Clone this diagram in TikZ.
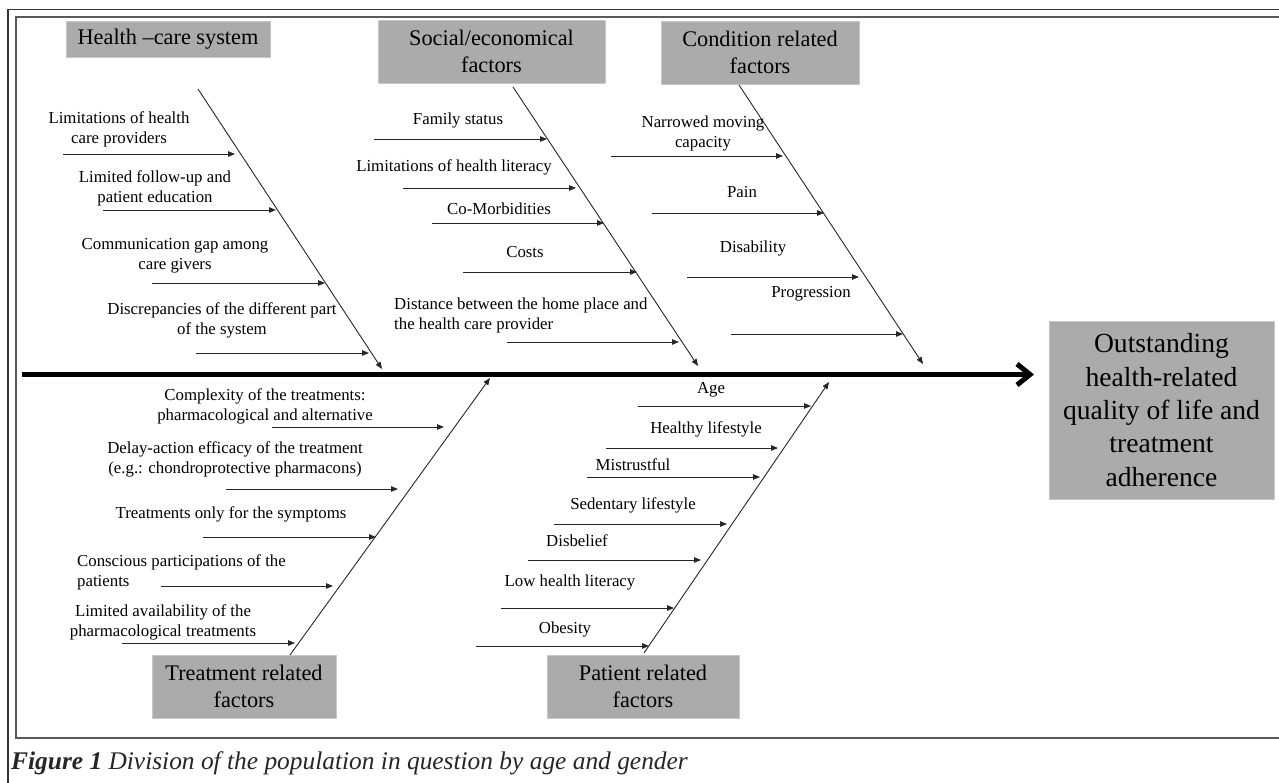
\documentclass[tikz,border=0pt]{standalone}
\usepackage{fontspec}
\setmainfont{Liberation Serif}
\usetikzlibrary{positioning, arrows.meta}

\begin{document}
\begin{tikzpicture}[x=1pt,y=-1pt]
		\tikzstyle{box} = [fill=black!33, draw=black!22, line width=0.8pt, text=black, align=center, inner sep=0, font=\fontsize{22.3}{27}\selectfont]
		\tikzstyle{cause} = [align=center, inner sep=0, font=\fontsize{16.8}{20}\selectfont]
		\tikzstyle{tip} = [-{Triangle[length=7pt,width=5.5pt]}, line width=0.9pt, black!85]
		\tikzstyle{spine} = [-{Straight Barb[length=13pt,width=21pt]}, line width=5pt]
		\tikzstyle{invisible} = [outer sep=0,inner sep=0,minimum size=0]
		\useasboundingbox (0,0) rectangle (1279,783);
		% frame
		\draw [line width=1.6pt, black!80] (8,783) -- (8,9.5) -- (1279,9.5);
		\draw [line width=1.6pt, black!65] (1279,738) -- (16,738) -- (16,17) -- (1279,17);
		% categories
		\node [box, minimum width=204, minimum height=36] (V_health) at (168,39) {Health –care system};
		\node [box, minimum width=227, minimum height=63] (V_social) at (491.5,51.5) {Social/economical\\factors};
		\node [box, minimum width=198, minimum height=63] (V_cond) at (760,52.5) {Condition related\\factors};
		\node [box, minimum width=184, minimum height=63] (V_treat) at (244,686.5) {Treatment related\\factors};
		\node [box, minimum width=192, minimum height=63] (V_patient) at (643,686.5) {Patient related\\factors};
		\node [box, font=\fontsize{27.6}{33.3}\selectfont, minimum width=225, minimum height=178] (V_outcome) at (1161.5,410) {Outstanding\\health-related\\quality of life and\\treatment\\adherence};
		% spine
		\node [invisible] (v_sp0) at (22,374.5) {};
		\node [invisible] (v_sp1) at (1034,374.5) {};
		\draw [spine] (v_sp0) edge (v_sp1);
		% bones
		\node [invisible] (v_hb0) at (198,89) {};
		\node [invisible] (v_hb1) at (382,369) {};
		\node [invisible] (v_sb0) at (513,87) {};
		\node [invisible] (v_sb1) at (698,366) {};
		\node [invisible] (v_cb0) at (739,85) {};
		\node [invisible] (v_cb1) at (923,364) {};
		\node [invisible] (v_tb0) at (290,655) {};
		\node [invisible] (v_tb1) at (490,378) {};
		\node [invisible] (v_pb0) at (644,653) {};
		\node [invisible] (v_pb1) at (829,382) {};
		\draw [tip] (v_hb0) edge (v_hb1);
		\draw [tip] (v_sb0) edge (v_sb1);
		\draw [tip] (v_cb0) edge (v_cb1);
		\draw [tip] (v_tb0) edge (v_tb1);
		\draw [tip] (v_pb0) edge (v_pb1);
		% health-care system
		\node [cause] (v_h1) at (119,129) {Limitations of health\\care providers};
		\node [cause] (v_h2) at (155,188) {Limited follow-up and\\patient education};
		\node [cause] (v_h3) at (175,256) {Communication gap among\\care givers};
		\node [cause] (v_h4) at (222,320.5) {Discrepancies of the different part\\of the system};
		\node [invisible] (v_h1a) at (63,154) {};
		\node [invisible] (v_h1b) at (235,154) {};
		\node [invisible] (v_h2a) at (103,210) {};
		\node [invisible] (v_h2b) at (276,210) {};
		\node [invisible] (v_h3a) at (152,283) {};
		\node [invisible] (v_h3b) at (325,283) {};
		\node [invisible] (v_h4a) at (196,353) {};
		\node [invisible] (v_h4b) at (369,353) {};
		\draw [tip] (v_h1a) edge (v_h1b);
		\draw [tip] (v_h2a) edge (v_h2b);
		\draw [tip] (v_h3a) edge (v_h3b);
		\draw [tip] (v_h4a) edge (v_h4b);
		% social/economical
		\node [cause] (v_s1) at (458,120) {Family status};
		\node [cause] (v_s2) at (454,167) {Limitations of health literacy};
		\node [cause] (v_s3) at (499,209) {Co-Morbidities};
		\node [cause] (v_s4) at (525,252) {Costs};
		\node [cause, anchor=west, align=left] (v_s5) at (394,315) {Distance between the home place and\\the health care provider};
		\node [invisible] (v_s1a) at (374,139) {};
		\node [invisible] (v_s1b) at (547,139) {};
		\node [invisible] (v_s2a) at (403,188) {};
		\node [invisible] (v_s2b) at (576,188) {};
		\node [invisible] (v_s3a) at (432,223) {};
		\node [invisible] (v_s3b) at (604,223) {};
		\node [invisible] (v_s4a) at (463,272) {};
		\node [invisible] (v_s4b) at (637,272) {};
		\node [invisible] (v_s5a) at (507,342) {};
		\node [invisible] (v_s5b) at (679,342) {};
		\draw [tip] (v_s1a) edge (v_s1b);
		\draw [tip] (v_s2a) edge (v_s2b);
		\draw [tip] (v_s3a) edge (v_s3b);
		\draw [tip] (v_s4a) edge (v_s4b);
		\draw [tip] (v_s5a) edge (v_s5b);
		% condition related
		\node [cause] (v_c1) at (703,133) {Narrowed moving\\capacity};
		\node [cause] (v_c2) at (742,192) {Pain};
		\node [cause] (v_c3) at (753,248) {Disability};
		\node [cause] (v_c4) at (811,294) {Progression};
		\node [invisible] (v_c1a) at (611,156) {};
		\node [invisible] (v_c1b) at (783,156) {};
		\node [invisible] (v_c2a) at (652,213) {};
		\node [invisible] (v_c2b) at (824,213) {};
		\node [invisible] (v_c3a) at (687,277) {};
		\node [invisible] (v_c3b) at (859,277) {};
		\node [invisible] (v_c4a) at (731,334) {};
		\node [invisible] (v_c4b) at (903,334) {};
		\draw [tip] (v_c1a) edge (v_c1b);
		\draw [tip] (v_c2a) edge (v_c2b);
		\draw [tip] (v_c3a) edge (v_c3b);
		\draw [tip] (v_c4a) edge (v_c4b);
		% treatment related
		\node [cause] (v_t1) at (265,406) {Complexity of the treatments:\\pharmacological and alternative};
		\node [cause] (v_t2) at (235,459) {Delay-action efficacy of the treatment\\(e.g.: chondroprotective pharmacons)};
		\node [cause] (v_t3) at (231,514) {Treatments only for the symptoms};
		\node [cause, anchor=west, align=left] (v_t4) at (77,572) {Conscious participations of the\\patients};
		\node [cause] (v_t5) at (163,622) {Limited availability of the\\pharmacological treatments};
		\node [invisible] (v_t1a) at (272,427) {};
		\node [invisible] (v_t1b) at (444,427) {};
		\node [invisible] (v_t2a) at (226,489) {};
		\node [invisible] (v_t2b) at (398,489) {};
		\node [invisible] (v_t3a) at (203,537) {};
		\node [invisible] (v_t3b) at (376,537) {};
		\node [invisible] (v_t4a) at (161,586) {};
		\node [invisible] (v_t4b) at (333,586) {};
		\node [invisible] (v_t5a) at (122,643) {};
		\node [invisible] (v_t5b) at (295,643) {};
		\draw [tip] (v_t1a) edge (v_t1b);
		\draw [tip] (v_t2a) edge (v_t2b);
		\draw [tip] (v_t3a) edge (v_t3b);
		\draw [tip] (v_t4a) edge (v_t4b);
		\draw [tip] (v_t5a) edge (v_t5b);
		% patient related
		\node [cause] (v_p1) at (711,390) {Age};
		\node [cause] (v_p2) at (706,429) {Healthy lifestyle};
		\node [cause] (v_p3) at (633,465) {Mistrustful};
		\node [cause] (v_p4) at (633,505) {Sedentary lifestyle};
		\node [cause] (v_p5) at (577,541) {Disbelief};
		\node [cause] (v_p6) at (570,582) {Low health literacy};
		\node [cause] (v_p7) at (565,629) {Obesity};
		\node [invisible] (v_p1a) at (638,406) {};
		\node [invisible] (v_p1b) at (811,406) {};
		\node [invisible] (v_p2a) at (606,448) {};
		\node [invisible] (v_p2b) at (778,448) {};
		\node [invisible] (v_p3a) at (587,477) {};
		\node [invisible] (v_p3b) at (760,477) {};
		\node [invisible] (v_p4a) at (554,524) {};
		\node [invisible] (v_p4b) at (727,524) {};
		\node [invisible] (v_p5a) at (528,560) {};
		\node [invisible] (v_p5b) at (701,560) {};
		\node [invisible] (v_p6a) at (501,608) {};
		\node [invisible] (v_p6b) at (674,608) {};
		\node [invisible] (v_p7a) at (476,646) {};
		\node [invisible] (v_p7b) at (649,646) {};
		\draw [tip] (v_p1a) edge (v_p1b);
		\draw [tip] (v_p2a) edge (v_p2b);
		\draw [tip] (v_p3a) edge (v_p3b);
		\draw [tip] (v_p4a) edge (v_p4b);
		\draw [tip] (v_p5a) edge (v_p5b);
		\draw [tip] (v_p6a) edge (v_p6b);
		\draw [tip] (v_p7a) edge (v_p7b);
		% caption
		\node [anchor=west, inner sep=0, text=black!85, font=\fontsize{25.4}{29}\selectfont\itshape] (V_caption) at (11,763) {\textbf{Figure 1} Division of the population in question by age and gender};
\end{tikzpicture}
\end{document}
